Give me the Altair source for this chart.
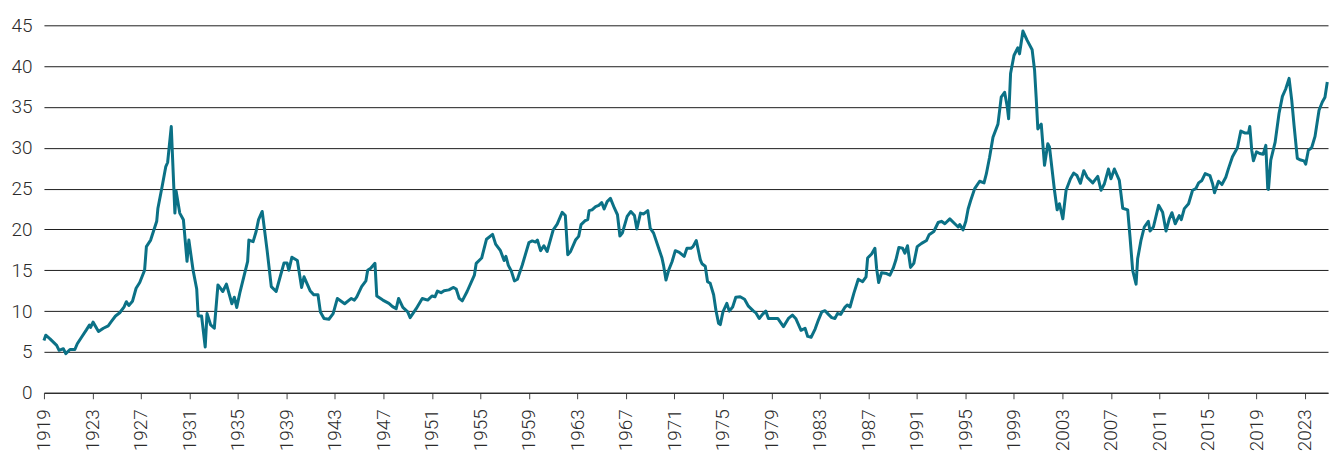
import altair as alt
import pandas as pd

# Decimal year positions
YEARS = [
    1919.0, 1919.15, 1919.5, 1920.05, 1920.25, 1920.6, 1920.8, 1921.15, 1921.55, 1921.75,
    1922.1, 1922.5, 1922.75, 1922.85, 1923.05, 1923.5, 1923.9, 1924.3, 1924.55, 1924.9,
    1925.25, 1925.6, 1925.8, 1926.0, 1926.3, 1926.6, 1926.9, 1927.3, 1927.45, 1927.8,
    1928.3, 1928.4, 1928.75, 1929.05, 1929.2, 1929.5, 1929.8, 1929.9, 1930.2, 1930.5,
    1930.8, 1930.95, 1931.3, 1931.6, 1931.72, 1932.0, 1932.3, 1932.45, 1932.75, 1933.05,
    1933.35, 1933.75, 1934.05, 1934.5, 1934.7, 1934.9, 1935.15, 1935.8, 1935.9, 1936.25,
    1936.5, 1936.7, 1937.0, 1937.4, 1937.75, 1938.15, 1938.5, 1938.8, 1939.05, 1939.2,
    1939.45, 1939.9, 1940.25, 1940.45, 1940.95, 1941.25, 1941.6, 1941.8, 1942.1, 1942.5,
    1942.85, 1943.2, 1943.8, 1944.35, 1944.6, 1944.8, 1945.2, 1945.55, 1945.7, 1945.95,
    1946.3, 1946.45, 1946.95, 1947.45, 1947.75, 1948.05, 1948.25, 1948.6, 1949.0, 1949.2,
    1949.7, 1950.2, 1950.65, 1951.0, 1951.25, 1951.45, 1951.75, 1952.0, 1952.4, 1952.75,
    1953.0, 1953.25, 1953.5, 1953.9, 1954.5, 1954.65, 1955.1, 1955.5, 1956.0, 1956.25,
    1956.65, 1956.95, 1957.1, 1957.3, 1957.55, 1957.8, 1958.05, 1958.45, 1959.0, 1959.27,
    1959.55, 1959.7, 1959.96, 1960.23, 1960.5, 1961.0, 1961.33, 1961.74, 1962.0, 1962.2,
    1962.43, 1962.84, 1963.1, 1963.3, 1963.66, 1963.85, 1963.96, 1964.2, 1964.5, 1964.76,
    1965.0, 1965.2, 1965.45, 1965.72, 1966.05, 1966.3, 1966.5, 1966.7, 1967.1, 1967.4,
    1967.7, 1967.9, 1968.2, 1968.46, 1968.8, 1969.0, 1969.28, 1969.7, 1969.97, 1970.1,
    1970.3, 1970.52, 1970.8, 1971.07, 1971.4, 1971.8, 1972.03, 1972.36, 1972.53, 1972.8,
    1973.13, 1973.27, 1973.54, 1973.73, 1973.95, 1974.23, 1974.42, 1974.64, 1974.78, 1975.0,
    1975.32, 1975.52, 1975.8, 1976.06, 1976.42, 1976.78, 1977.1, 1977.52, 1977.71, 1977.99,
    1978.26, 1978.53, 1978.75, 1979.17, 1979.52, 1979.99, 1980.4, 1980.73, 1981.0, 1981.44,
    1981.77, 1981.99, 1982.27, 1982.6, 1982.87, 1983.15, 1983.42, 1983.7, 1983.97, 1984.24,
    1984.44, 1984.71, 1985.07, 1985.26, 1985.48, 1985.8, 1986.16, 1986.52, 1986.8, 1986.93,
    1987.26, 1987.53, 1987.67, 1987.84, 1988.08, 1988.5, 1988.77, 1989.04, 1989.26, 1989.51,
    1989.81, 1990.0, 1990.22, 1990.47, 1990.74, 1991.02, 1991.38, 1991.79, 1992.0, 1992.39,
    1992.75, 1993.02, 1993.3, 1993.71, 1994.12, 1994.4, 1994.53, 1994.8, 1995.03, 1995.22,
    1995.43, 1995.76, 1996.17, 1996.53, 1996.72, 1996.99, 1997.27, 1997.68, 1997.95, 1998.23,
    1998.45, 1998.56, 1998.72, 1999.0, 1999.32, 1999.46, 1999.74, 2000.09, 2000.5, 2000.7,
    2000.83, 2000.97, 2001.25, 2001.52, 2001.79, 2001.93, 2002.34, 2002.56, 2002.75, 2003.03,
    2003.3, 2003.66, 2003.93, 2004.2, 2004.48, 2004.76, 2005.03, 2005.5, 2005.91, 2006.18,
    2006.46, 2006.79, 2007.0, 2007.28, 2007.69, 2007.97, 2008.38, 2008.57, 2008.79, 2009.07,
    2009.2, 2009.48, 2009.75, 2010.08, 2010.22, 2010.5, 2010.93, 2011.26, 2011.54, 2011.81,
    2012.03, 2012.3, 2012.63, 2012.8, 2013.05, 2013.4, 2013.73, 2014.0, 2014.23, 2014.5,
    2014.77, 2015.16, 2015.38, 2015.54, 2015.87, 2016.15, 2016.47, 2016.69, 2017.02, 2017.43,
    2017.71, 2018.07, 2018.34, 2018.45, 2018.61, 2018.75, 2019.0, 2019.27, 2019.55, 2019.77,
    2019.93, 2019.99, 2020.18, 2020.54, 2020.86, 2021.14, 2021.41, 2021.69, 2021.91, 2022.1,
    2022.37, 2022.65, 2022.92, 2023.06, 2023.28, 2023.55, 2023.83, 2024.16, 2024.43, 2024.65,
    2024.84,
]

# Ratio values at those positions
VALUES = [
    6.4, 7.05, 6.6, 5.8, 5.2, 5.4, 4.8, 5.3, 5.3, 6.0,
    6.8, 7.7, 8.3, 8.0, 8.65, 7.5, 7.9, 8.2, 8.7, 9.4,
    9.8, 10.5, 11.15, 10.7, 11.2, 12.8, 13.5, 15.0, 17.9, 18.7,
    21.0, 22.6, 25.3, 27.7, 28.2, 32.6, 22.0, 24.7, 22.0, 21.2,
    16.1, 18.7, 15.0, 12.7, 9.4, 9.4, 5.6, 9.7, 8.3, 7.9,
    13.2, 12.4, 13.3, 10.9, 11.7, 10.45, 12.2, 16.1, 18.7, 18.5,
    19.75, 21.2, 22.2, 17.5, 13.0, 12.4, 14.3, 15.9, 15.9, 15.0,
    16.6, 16.2, 12.9, 14.2, 12.5, 12.0, 12.0, 9.9, 9.1, 9.0,
    9.7, 11.55, 10.9, 11.55, 11.35, 11.75, 13.0, 13.7, 15.0, 15.25,
    15.85, 11.85, 11.35, 10.95, 10.55, 10.3, 11.55, 10.45, 9.9, 9.2,
    10.3, 11.55, 11.35, 11.85, 11.75, 12.45, 12.25, 12.5, 12.6, 12.9,
    12.7, 11.55, 11.25, 12.4, 14.4, 15.85, 16.5, 18.8, 19.4, 18.2,
    17.4, 16.2, 16.7, 15.6, 14.9, 13.7, 13.9, 15.65, 18.4, 18.6,
    18.45, 18.7, 17.4, 18.0, 17.3, 19.95, 20.65, 22.1, 21.7, 16.9,
    17.3, 18.7, 19.15, 20.6, 21.1, 21.2, 22.3, 22.4, 22.8, 22.95,
    23.3, 22.5, 23.4, 23.8, 22.6, 21.8, 19.2, 19.55, 21.6, 22.2,
    21.7, 20.05, 22.0, 21.9, 22.3, 20.15, 19.55, 17.7, 16.5, 15.6,
    13.8, 15.0, 16.05, 17.4, 17.2, 16.7, 17.7, 17.7, 17.9, 18.65,
    16.3, 15.8, 15.5, 13.6, 13.4, 12.0, 10.1, 8.5, 8.35, 9.9,
    10.95, 10.0, 10.5, 11.7, 11.75, 11.45, 10.6, 10.0, 9.8, 9.1,
    9.6, 10.0, 9.1, 9.1, 9.1, 8.1, 9.1, 9.5, 9.1, 7.65,
    7.9, 6.9, 6.8, 7.8, 8.9, 9.9, 10.05, 9.6, 9.2, 9.1,
    9.7, 9.6, 10.5, 10.75, 10.5, 12.2, 13.9, 13.6, 14.2, 16.5,
    17.0, 17.7, 15.25, 13.5, 14.7, 14.6, 14.4, 15.25, 16.25, 17.8,
    17.7, 17.1, 18.0, 15.35, 15.85, 17.9, 18.3, 18.65, 19.35, 19.75,
    20.85, 21.0, 20.7, 21.3, 20.7, 20.3, 20.6, 19.95, 21.0, 22.5,
    23.55, 25.0, 25.9, 25.7, 26.8, 28.85, 31.3, 32.9, 36.2, 36.8,
    35.0, 33.55, 39.1, 41.3, 42.25, 41.5, 44.3, 43.15, 42.0, 39.5,
    36.2, 32.3, 32.9, 27.85, 30.5, 30.1, 24.8, 22.4, 23.15, 21.3,
    24.8, 26.2, 26.9, 26.6, 25.65, 27.2, 26.4, 25.7, 26.5, 24.8,
    25.6, 27.4, 26.2, 27.4, 26.0, 22.6, 22.4, 19.1, 15.0, 13.3,
    16.4, 18.7, 20.3, 21.0, 19.8, 20.3, 22.95, 22.1, 19.8, 21.3,
    22.05, 20.7, 21.7, 21.2, 22.55, 23.15, 24.8, 25.0, 25.7, 26.0,
    26.85, 26.6, 25.6, 24.5, 25.9, 25.5, 26.4, 27.45, 28.9, 30.0,
    32.05, 31.8, 31.8, 32.6, 29.7, 28.4, 29.5, 29.3, 29.2, 30.3,
    25.0, 24.9, 28.5, 30.7, 34.2, 36.3, 37.2, 38.5, 35.8, 32.75,
    28.7, 28.5, 28.4, 28.0, 29.7, 30.0, 31.4, 34.6, 35.6, 36.2,
    38.05,
]

TICK_YEARS = [1919, 1923, 1927, 1931, 1935, 1939, 1943, 1947, 1951, 1955, 1959,
              1963, 1967, 1971, 1975, 1979, 1983, 1987, 1991, 1995, 1999, 2003,
              2007, 2011, 2015, 2019, 2023]
Y_TICKS = [0, 5, 10, 15, 20, 25, 30, 35, 40, 45]

df = pd.DataFrame({"year": YEARS, "value": VALUES})

FONT = "Roboto"
TEXT_COLOR = "#2b2b2b"

chart = alt.Chart(df).mark_line(
    color="#0b7186", strokeWidth=3, strokeJoin="round"
).encode(
    x=alt.X(
        "year:Q",
        scale=alt.Scale(domain=[1919, 2024.9], nice=False, zero=False),
        axis=alt.Axis(
            values=TICK_YEARS, format="d", title=None, grid=False,
            labelAngle=-90, labelAlign="right", labelBaseline="middle",
            labelFontSize=19, labelFont=FONT, labelFontWeight=300,
            labelColor=TEXT_COLOR, labelPadding=10,
            ticks=True, tickSize=6, tickColor="#444444", tickWidth=1,
            domain=True, domainColor="#222222", domainWidth=1,
            labelOverlap=False, labelFlush=False,
        ),
    ),
    y=alt.Y(
        "value:Q",
        scale=alt.Scale(domain=[0, 45], nice=False),
        axis=alt.Axis(
            values=Y_TICKS, title=None, grid=True, gridColor="#1e1e1e",
            gridWidth=1, ticks=False, domain=False,
            labelFontSize=19, labelFont=FONT, labelFontWeight=300,
            labelColor=TEXT_COLOR, labelPadding=12,
        ),
    ),
).properties(
    width=1286,
    height=368,
    autosize=alt.AutoSizeParams(type="none"),
    padding={"left": 36, "top": 17, "right": 5, "bottom": 62},
).configure_view(stroke=None)

chart.save("out.html", embed_options={"renderer": "svg", "actions": False})
